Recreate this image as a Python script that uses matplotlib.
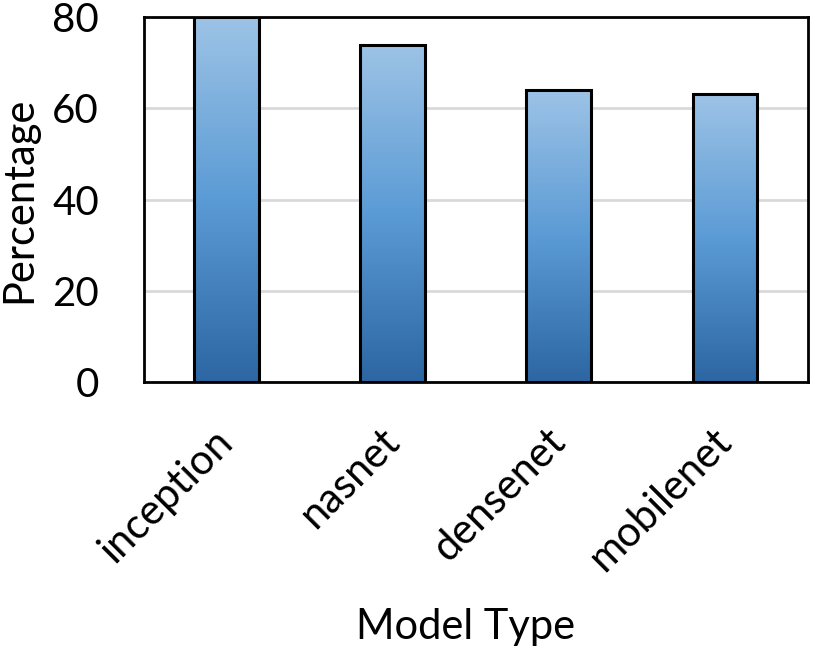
import matplotlib.pyplot as plt
import numpy as np
from matplotlib.colors import LinearSegmentedColormap

models = ["inception", "nasnet", "densenet", "mobilenet"]
percentage = [80.0, 73.9, 64.1, 63.1]

plt.rcParams['font.family'] = ['Lato', 'DejaVu Sans']

fig = plt.figure(figsize=(8.22, 6.49), dpi=100)
ax = fig.add_axes([0.1746, 0.4114, 0.8084, 0.5624])

cmap = LinearSegmentedColormap.from_list("grad", ["#2C66A3", "#5B9BD5", "#9DC3E6"])
grad = np.linspace(0, 1, 256).reshape(-1, 1)

x = np.arange(len(models))
bars = ax.bar(x, percentage, width=0.39, color="none", edgecolor="black", linewidth=2.2, zorder=3)
# gradient fill clipped to each bar
for b in bars:
    x0, y0 = b.get_x(), b.get_y()
    w, h = b.get_width(), b.get_height()
    im = ax.imshow(grad, cmap=cmap, aspect="auto", origin="lower",
                   extent=(x0, x0 + w, y0, y0 + h), zorder=2)
    im.set_clip_path(b)

ax.set_xlim(-0.5, len(models) - 0.5)
ax.set_ylim(0, 80)
ax.set_yticks([0, 20, 40, 60, 80])
ax.yaxis.grid(True, color="#d9d9d9", linewidth=2)
ax.set_axisbelow(True)
for s in ax.spines.values():
    s.set_linewidth(2)
ax.tick_params(axis="y", length=0, labelsize=29, pad=32)
ax.tick_params(axis="x", length=0, labelsize=30, pad=38)
ax.set_xticks(x)
ax.set_xticklabels(models, rotation=45, ha="right", va="center", rotation_mode="anchor")

ax.set_ylabel("Percentage", fontsize=30)
ax.yaxis.set_label_coords(-0.158, 0.5)
ax.set_xlabel("Model Type", fontsize=30)
ax.xaxis.set_label_coords(0.485, -0.62)

fig.savefig("out.png", dpi=100)
